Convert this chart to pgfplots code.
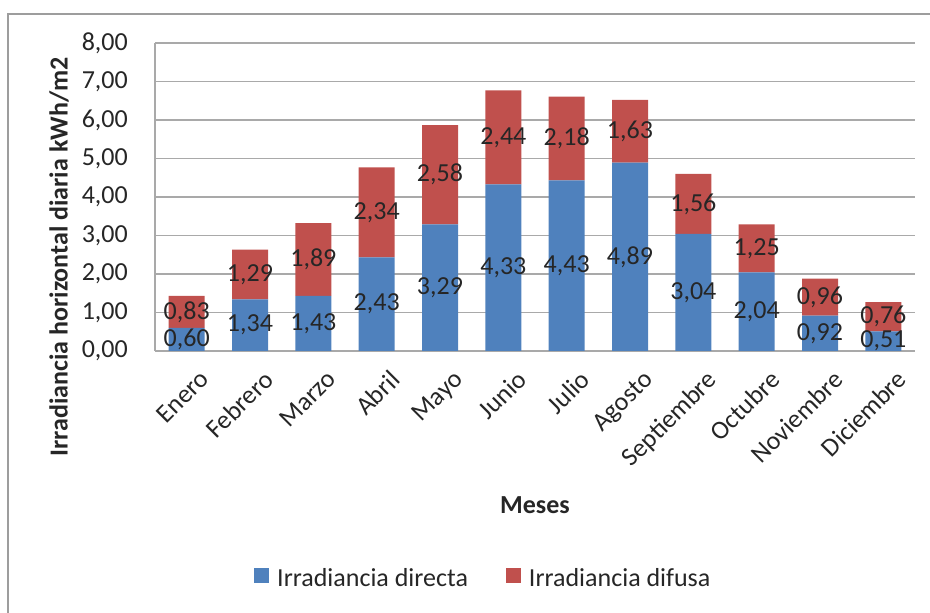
\documentclass[border=0pt]{standalone}
\usepackage{pgfplots}
\pgfplotsset{compat=1.18}
\usepackage{pgfplotstable}
\usepackage{fontspec}
\setmainfont{Carlito}
\definecolor{barblue}{HTML}{4F81BD}
\definecolor{barred}{HTML}{C0504D}
\definecolor{txt}{HTML}{262626}
\definecolor{gridc}{HTML}{A9A9A9}
\definecolor{framec}{HTML}{9D9D9D}

\pgfplotstableread{
x dir dif
0 0.60 0.83
1 1.34 1.29
2 1.43 1.89
3 2.43 2.34
4 3.29 2.58
5 4.33 2.44
6 4.43 2.18
7 4.89 1.63
8 3.04 1.56
9 2.04 1.25
10 0.92 0.96
11 0.51 0.76
}\data

\newcommand{\bigfont}{\fontsize{26}{31}\selectfont}

\begin{document}
\begin{tikzpicture}
\path[use as bounding box] (0pt,0pt) rectangle (930pt,613pt);
\draw[framec, line width=2pt] (8pt,-5pt) -- (8pt,599pt) -- (935pt,599pt);
\pgfplotsset{common/.style={at={(155pt,262pt)}, anchor=south west, scale only axis,
  width=760pt, height=308pt, xmin=-0.5, xmax=11.5, ymin=0, ymax=8,
  /pgf/number format/use comma, /pgf/number format/fixed,
  /pgf/number format/fixed zerofill, /pgf/number format/precision=2,
  /pgf/number format/1000 sep={}, /pgf/number format/assume math mode=true}}
\begin{axis}[common,
  ybar stacked, bar width=36pt,
  axis x line*=bottom, axis y line*=left,
  axis line style={gridc, line width=1.5pt, -},
  ymajorgrids, grid style={gridc, line width=1.5pt},
  ytick={0,1,...,8}, xtick={0,...,11},
  xticklabels={Enero,Febrero,Marzo,Abril,Mayo,Junio,Julio,Agosto,Septiembre,Octubre,Noviembre,Diciembre},
  major tick length=0pt, tick style={draw=none},
  ticklabel style={font=\bigfont, text=txt},
  yticklabel style={inner sep=0pt, xshift=-27pt},
  xticklabel style={rotate=45, anchor=north east, inner sep=0pt, xshift=-4pt, yshift=-21pt},
  legend style={at={(0.432,-0.737)}, anchor=center, draw=none, fill=none,
    legend columns=2, font=\bigfont, text=txt,
    /tikz/every even column/.append style={column sep=36pt}},
  legend image code/.code={\fill[#1] (0pt,-5pt) rectangle (15pt,10pt); \path (21pt,0pt);},
]
\addplot[fill=barblue, draw=none] table[x=x, y=dir] {\data};
\addlegendentry{Irradiancia directa}
\addplot[fill=barred, draw=none] table[x=x, y=dif] {\data};
\addlegendentry{Irradiancia difusa}
\end{axis}
\begin{axis}[common, hide axis]
\addplot[draw=none, mark=none, nodes near coords, point meta=explicit,
  every node near coord/.append style={anchor=center, font=\bigfont, text=txt, inner sep=0pt}]
  table[x=x, y expr=\thisrow{dir}/2, meta=dir] {\data};
\addplot[draw=none, mark=none, nodes near coords, point meta=explicit,
  every node near coord/.append style={anchor=center, font=\bigfont, text=txt, inner sep=0pt}]
  table[x=x, y expr=\thisrow{dir}+\thisrow{dif}/2, meta=dif] {\data};
\end{axis}
\node[rotate=90, font=\bfseries\bigfont, text=txt] at (59pt,356pt) {Irradiancia horizontal diaria kWh/m2};
\node[font=\bfseries\bigfont, text=txt] at (535pt,108pt) {Meses};
\end{tikzpicture}
\end{document}
